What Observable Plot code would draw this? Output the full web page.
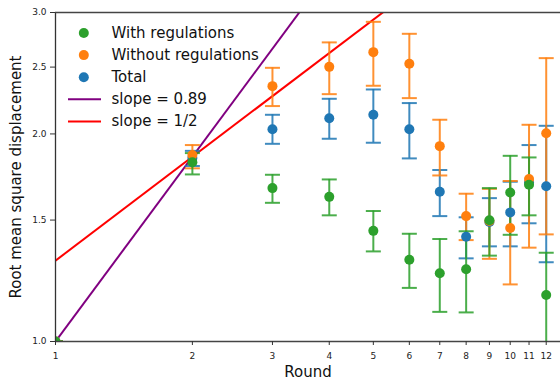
<!DOCTYPE html>
<html>
<head>
<meta charset="utf-8">
<script src="https://cdn.jsdelivr.net/npm/d3@7"></script>
<script src="https://cdn.jsdelivr.net/npm/@observablehq/plot@0.6"></script>
<style>
  html, body { margin: 0; padding: 0; background: #fff; }
  #chart svg { display: block; font-family: "DejaVu Sans", sans-serif; }
</style>
</head>
<body>
<div id="chart"></div>
<script>
// ---- data ----
const rounds = [1, 2, 3, 4, 5, 6, 7, 8, 9, 10, 11, 12];

const withMean = [1.0, 1.819, 1.669, 1.621, 1.447, 1.314, 1.256, 1.273, 1.499, 1.645, 1.688, 1.168];
const withLow  = [1.0, 1.747, 1.589, 1.524, 1.351, 1.196, 1.104, 1.102, 1.332, 1.428, 1.524, 0.90];
const withHigh = [1.0, 1.876, 1.745, 1.718, 1.546, 1.433, 1.408, 1.445, 1.669, 1.859, 1.849, 1.345];

const withoutMean = [1.0, 1.864, 2.346, 2.502, 2.628, 2.528, 1.920, 1.520, 1.495, 1.461, 1.720, 2.004];
const withoutLow  = [1.0, 1.783, 2.195, 2.284, 2.349, 2.254, 1.741, 1.403, 1.318, 1.210, 1.368, 1.430];
const withoutHigh = [1.0, 1.927, 2.494, 2.715, 2.908, 2.794, 2.097, 1.638, 1.665, 1.709, 2.062, 2.576];

const totalMean = [1.0, 1.845, 2.032, 2.108, 2.132, 2.032, 1.649, 1.419, 1.490, 1.539, 1.700, 1.679];
const totalLow  = [1.0, 1.797, 1.935, 1.968, 1.942, 1.843, 1.520, 1.320, 1.374, 1.374, 1.484, 1.303];
const totalHigh = [1.0, 1.890, 2.132, 2.249, 2.320, 2.217, 1.773, 1.514, 1.614, 1.705, 1.927, 2.055];

const seriesNames  = ["With regulations", "Without regulations", "Total"];
const seriesColors = ["#2ca02c", "#ff7f0e", "#1f77b4"];

const fitLabels = ["slope = 0.89", "slope = 1/2"];
const fitSlopes = [0.89, 0.5];
const fitScales = [1.0, 1.31];
const fitColors = ["purple", "red"];

const xTicks = [1, 2, 3, 4, 5, 6, 7, 8, 9, 10, 11, 12];
const yTicks = [1.0, 1.5, 2.0, 2.5, 3.0];
const xDomain = [1, 12.9];
const yDomain = [1, 3];

// ---- build tables ----
function rows(mean, low, high) {
  return rounds.map((r, i) => ({round: r, mean: mean[i], low: low[i], high: high[i]}));
}
const series = [
  {name: seriesNames[0], color: seriesColors[0], data: rows(withMean, withLow, withHigh)},
  {name: seriesNames[1], color: seriesColors[1], data: rows(withoutMean, withoutLow, withoutHigh)},
  {name: seriesNames[2], color: seriesColors[2], data: rows(totalMean, totalLow, totalHigh)}
];
const drawOrder = [2, 1, 0]; // total, without, with (with on top)

const fits = fitLabels.map((label, i) => ({
  label, color: fitColors[i],
  x1: xDomain[0], x2: xDomain[1],
  y1: fitScales[i] * Math.pow(xDomain[0], fitSlopes[i]),
  y2: fitScales[i] * Math.pow(xDomain[1], fitSlopes[i])
}));

// horizontal-bar symbol for error caps and legend lines
const hbar = {
  draw(ctx, size) {
    const r = Math.sqrt(size / Math.PI);
    ctx.moveTo(-r, 0);
    ctx.lineTo(r, 0);
  }
};

const marks = [];

// fit lines
marks.push(Plot.link(fits, {
  x1: "x1", y1: "y1", x2: "x2", y2: "y2",
  stroke: "color", strokeWidth: 2, clip: true
}));

// error bars (below all markers)
for (const k of drawOrder) {
  const s = series[k];
  marks.push(Plot.ruleX(s.data, {x: "round", y1: "low", y2: "high", stroke: s.color, strokeWidth: 2, strokeOpacity: 0.85, clip: true}));
  marks.push(Plot.dot(s.data, {x: "round", y: "low", symbol: hbar, r: 7.5, fill: "none", stroke: s.color, strokeWidth: 2, strokeOpacity: 0.85, clip: true}));
  marks.push(Plot.dot(s.data, {x: "round", y: "high", symbol: hbar, r: 7.5, fill: "none", stroke: s.color, strokeWidth: 2, strokeOpacity: 0.85, clip: true}));
}
// markers
for (const k of drawOrder) {
  const s = series[k];
  marks.push(Plot.dot(s.data, {x: "round", y: "mean", r: 5, fill: s.color, stroke: "none", clip: true}));
}

// spines
marks.push(Plot.ruleX([xDomain[0]], {stroke: "#333", strokeWidth: 1.3}));
marks.push(Plot.ruleY(yDomain, {stroke: "#444", strokeWidth: 1.3}));

// axes: tick marks via axis marks, labels via text marks
marks.push(Plot.axisX(xTicks, {tickSize: 4, tickFormat: () => "", label: null, stroke: "#333"}));
marks.push(Plot.text(xTicks, {x: d => d, frameAnchor: "bottom", lineAnchor: "middle", dy: 15, text: d => String(d), fontSize: 9, fill: "#222"}));
marks.push(Plot.axisY(yTicks, {tickSize: 5, tickPadding: 4, fontSize: 9, tickFormat: d3.format(".1f"), label: null, stroke: "#333", fill: "#222"}));

// axis labels
marks.push(Plot.text(["Round"], {frameAnchor: "bottom", lineAnchor: "middle", dy: 30.5, fontSize: 15, fill: "#111"}));
marks.push(Plot.text(["Root mean square displacement"], {frameAnchor: "left", textAnchor: "middle", lineAnchor: "middle", dx: -39, rotate: -90, fontSize: 15, fill: "#111"}));

// legend (inside the frame, top-left)
const legendLabels = [...seriesNames, ...fitLabels];
const legendColors = [...seriesColors, ...fitColors];
legendLabels.forEach((label, i) => {
  const dy = 20.5 + i * 22.1;
  if (i < 3) {
    marks.push(Plot.dot([label], {frameAnchor: "top-left", dx: 28.3, dy, r: 5, fill: legendColors[i], stroke: "none"}));
  } else {
    marks.push(Plot.dot([label], {frameAnchor: "top-left", dx: 29, dy, r: 16.5, symbol: hbar, fill: "none", stroke: legendColors[i], strokeWidth: 2}));
  }
  marks.push(Plot.text([label], {frameAnchor: "top-left", dx: 56, dy, text: d => d, textAnchor: "start", lineAnchor: "middle", fontSize: 15, fill: "#111"}));
});

const chart = Plot.plot({
  width: 560,
  height: 380,
  marginLeft: 55,
  marginTop: 12,
  marginBottom: 39,
  marginRight: 0,
  style: {fontFamily: "DejaVu Sans, sans-serif", background: "#fff"},
  x: {type: "log", domain: xDomain},
  y: {type: "log", domain: yDomain},
  marks
});
document.getElementById("chart").appendChild(chart);
</script>
</body>
</html>
